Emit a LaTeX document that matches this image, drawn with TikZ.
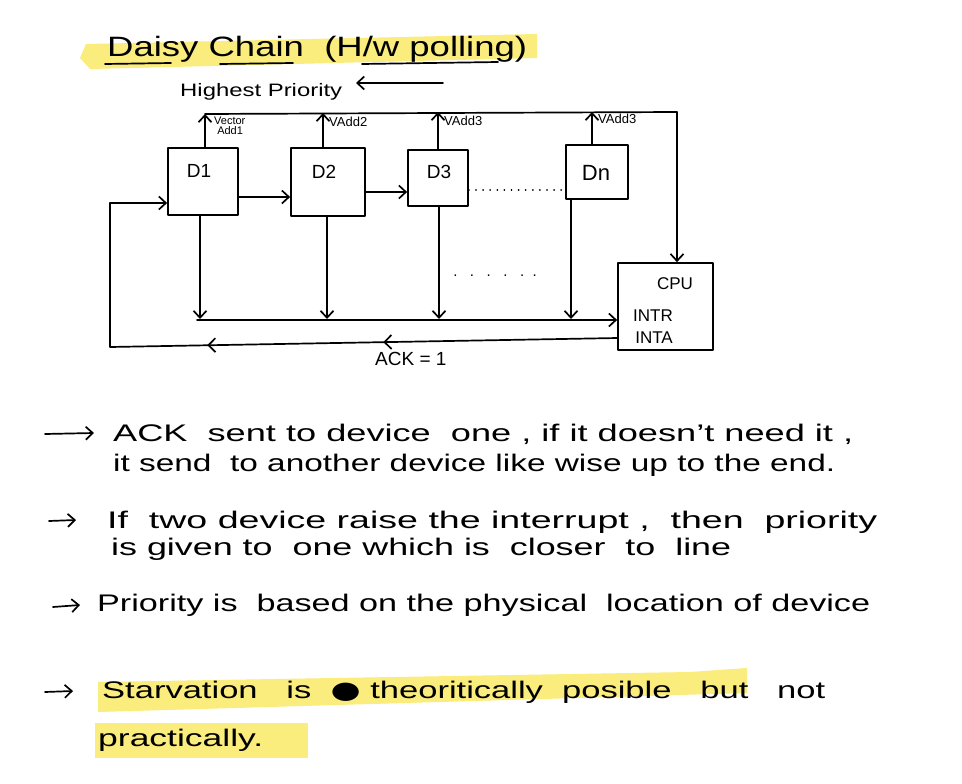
\documentclass[tikz,border=0pt]{standalone}
\usepackage{fontspec}
\setmainfont{Liberation Sans}
\newfontfamily\symfont{DejaVu Sans}
\usetikzlibrary{arrows.meta,decorations.markings}
% stretch a line of text to a given width, keeping its height
\newcommand\fitw[2]{\resizebox{#1}{\height}{#2}}
\definecolor{marker}{RGB}{250,236,125}

\begin{document}
\begin{tikzpicture}[x=1pt,y=-1pt,
  ink/.style={line width=1.7pt,black,line cap=round,line join=round},
  tip/.style={-{Straight Barb[length=7pt,width=13pt]}},
  box/.style={draw,ink,inner sep=0pt},
  lbl/.style={inner sep=0pt,font=\fontsize{19}{22}\selectfont},
  tiny/.style={inner sep=0pt,font=\fontsize{11}{12}\selectfont},
  txt/.style={inner sep=0pt,anchor=base west,font=\fontsize{24}{28}\selectfont},
  hilite/.style={fill=marker,draw=none},
  ackmarks/.style={postaction={decorate},decoration={markings,
     mark=at position 0.36 with {\arrow{Straight Barb[length=7pt,width=14pt]}},
     mark=at position 0.63 with {\arrow{Straight Barb[length=7pt,width=14pt]}}}}
]
\useasboundingbox[fill=white] (0,0) rectangle (962,784);

% ---- marker highlights ----
\fill[hilite] (80,58) -- (86,44) -- (537,34) -- (537,58) -- (90,69) -- cycle;
\fill[hilite] (98,682) -- (690,672) -- (747,668) -- (747,693) -- (98,712) -- cycle;
\fill[hilite] (95,723) -- (308,723) -- (308,758) -- (95,758) -- cycle;

% ---- title ----
\node[txt,font=\fontsize{28}{30}\selectfont] (title) at (107,57)
  {\fitw{420pt}{Daisy Chain \ (H/w polling)}};
\draw[ink] (105,64) -- (171,63);
\draw[ink] (220,64) -- (293,63);
\draw[ink] (362,64) -- (498,62);

% ---- priority direction ----
\node[txt,font=\fontsize{18}{20}\selectfont] (prio) at (180,97)
  {\fitw{162pt}{Highest Priority}};
\coordinate (prioR) at (443,83);
\coordinate (prioL) at (356,83);
\draw[ink,tip] (prioR) -- (prioL);

% ---- devices ----
\node[box,minimum width=70pt,minimum height=67pt] (D1) at (203,181.5) {};
\node[box,minimum width=74pt,minimum height=68pt] (D2) at (328,182) {};
\node[box,minimum width=60pt,minimum height=56pt] (D3) at (438,178) {};
\node[box,minimum width=62pt,minimum height=54pt] (Dn) at (597,172) {};
\node[lbl] (D1t) at (199,171) {D1};
\node[lbl] (D2t) at (324,172) {D2};
\node[lbl] (D3t) at (439,172) {D3};
\node[lbl,font=\fontsize{22}{24}\selectfont] (Dnt) at (596,173) {Dn};

% ---- CPU ----
\node[box,minimum width=95pt,minimum height=87pt] (CPU) at (665.5,306.5) {};
\node[lbl,font=\fontsize{17}{19}\selectfont] (cpuT) at (675,284) {CPU};
\node[lbl,font=\fontsize{17}{19}\selectfont] (intr) at (653,316) {INTR};
\node[lbl,font=\fontsize{17}{19}\selectfont] (inta) at (654,338) {INTA};

% ---- vector address bus ----
\coordinate (v1) at (205,114);
\coordinate (v2) at (323,113);
\coordinate (v3) at (438,112);
\coordinate (v4) at (592,112);
\coordinate (vR) at (677,112);
\draw[ink,tip] (D1.north -| v1) -- (v1);
\draw[ink,tip] (D2.north -| v2) -- (v2);
\draw[ink,tip] (D3.north -| v3) -- (v3);
\draw[ink,tip] (Dn.north -| v4) -- (v4);
\draw[ink,tip] (v1) -- (vR) -- (CPU.north -| vR);
\node[tiny,align=left,anchor=north west] (a1) at (214,117) {Vector\\[-2pt]\ Add1};
\node[tiny,anchor=west,font=\fontsize{13}{14}\selectfont] (a2) at (329,122) {VAdd2};
\node[tiny,anchor=west,font=\fontsize{13}{14}\selectfont] (a3) at (444,121) {VAdd3};
\node[tiny,anchor=west,font=\fontsize{13}{14}\selectfont] (a4) at (598,119) {VAdd3};

% ---- daisy chain between devices ----
\draw[ink,tip] (D1.east |- 0,197) -- (D2.west |- 0,197);
\draw[ink,tip] (D2.east |- 0,192) -- (D3.west |- 0,192);
\draw[ink,line width=1.8pt,dash pattern=on 0.1pt off 7pt] (D3.east |- 0,190) -- (Dn.west |- 0,190);

% ---- interrupt request line ----
\coordinate (r1) at (200,319);
\coordinate (r2) at (327,319);
\coordinate (r3) at (439,319);
\coordinate (r4) at (571,319);
\coordinate (rL) at (197,320);
\draw[ink,tip] (D1.south -| r1) -- (r1);
\draw[ink,tip] (D2.south -| r2) -- (r2);
\draw[ink,tip] (D3.south -| r3) -- (r3);
\draw[ink,tip] (Dn.south -| r4) -- (r4);
\draw[ink,tip] (rL) -- (CPU.west |- rL);
\node[inner sep=0pt,font=\fontsize{15}{16}\selectfont] (gap) at (495,276) {.\ \ \ .\ \ \ .\ \ \ .\ \ \ .\ \ .};

% ---- acknowledge line ----
\coordinate (ackR) at (618,338);
\coordinate (ackL) at (110,347);
\coordinate (ackU) at (110,203);
\draw[ink,ackmarks] (ackR) -- (ackL) -- (ackU);
\draw[ink,tip] (ackU) -- (D1.west |- ackU);
\node[lbl,anchor=base west] (ack) at (375,365) {ACK = 1};

% ---- notes ----
\draw[ink,tip] (45,434) -- (94,433);
\node[txt] (n1) at (113,441) {\fitw{740pt}{ACK \ sent to device \ one , if it doesn't need it ,}};
\node[txt] (n2) at (113,471) {\fitw{722pt}{it send \ to another device like wise up to the end.}};

\draw[ink,tip] (49,521) -- (76,520);
\node[txt] (n3) at (107,528) {\fitw{770pt}{If \ two device raise the interrupt , \ then \ priority}};
\node[txt] (n4) at (111,555) {\fitw{620pt}{is given to \ one which is \ closer \ to \ line}};

\draw[ink,tip] (53,607) -- (80,605);
\node[txt] (n5) at (97,611) {\fitw{773pt}{Priority is \ based on the physical \ location of device}};

\draw[ink,tip] (45,692) -- (73,691);
\node[txt] (n6) at (102,698) {\fitw{723pt}{Starvation \ \ is \ {\symfont ●} theoritically \ posible \ \ but \ \ not}};
\node[txt] (n7) at (98,746) {\fitw{165pt}{practically.}};
\end{tikzpicture}
\end{document}
